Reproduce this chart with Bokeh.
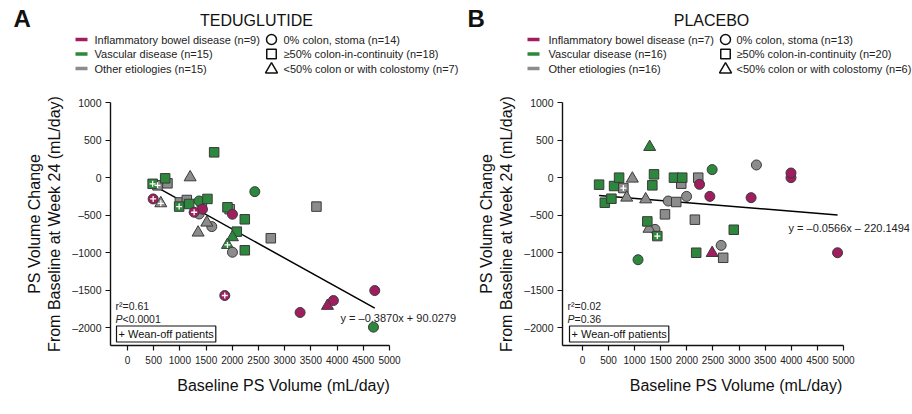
from bokeh.plotting import figure
from bokeh.layouts import row, column
from bokeh.models import Label, FixedTicker, ColumnDataSource, Range1d
from bokeh.embed import file_html
from bokeh.resources import INLINE

FONT = "Liberation Sans"

# ---------------- data ----------------
ETIO_COLORS = {"IBD": "#a01e5f", "VASC": "#2d873c", "OTHER": "#8c8c8c"}
SHAPE_SIZE = {"circle": 10, "square": 9.5, "triangle": 12}

ted_x = [573, 1000, 1420, 1950, 763, 719, 1196, 1654, 480, 490, 636, 1132, 986, 1177,
         1367, 1526, 1367, 1431, 1272, 1609, 1514, 1348, 2430, 1908, 2003, 2239, 2086,
         2003, 1908, 2003, 2239, 2735, 3606, 1857, 3294, 3930, 3816, 4719, 4694]
ted_y = [-102, -330, -330, -420, -75, -9, 4, 337, -82, -283, -341, -297, -385, -350,
         -310, -283, -483, -420, -460, -651, -598, -731, -186, -394, -487, -554, -718,
         -793, -895, -992, -966, -806, -385, -1568, -1794, -1635, -1706, -1502, -1989]
ted_etio = ["OTHER", "OTHER", "OTHER", "OTHER", "OTHER", "VASC", "OTHER", "VASC", "VASC", "IBD",
            "OTHER", "OTHER", "VASC", "VASC", "VASC", "VASC", "OTHER", "IBD", "IBD", "OTHER",
            "OTHER", "OTHER", "VASC", "VASC", "IBD", "VASC", "VASC", "VASC", "VASC", "OTHER",
            "VASC", "OTHER", "OTHER", "IBD", "IBD", "IBD", "IBD", "IBD", "VASC"]
ted_shape = ["square", "square", "square", "square", "square", "square", "triangle", "square",
             "square", "circle", "triangle", "square", "square", "square", "circle", "square",
             "circle", "circle", "circle", "circle", "triangle", "triangle", "circle", "square",
             "circle", "square", "square", "triangle", "triangle", "circle", "square", "square",
             "square", "circle", "circle", "circle", "triangle", "circle", "circle"]
ted_wean = [1, 0, 0, 0, 0, 0, 0, 0, 1, 1, 1, 0, 1, 0, 0, 0, 0, 0, 1, 0, 0, 0, 0, 0, 0, 0,
            0, 0, 1, 0, 0, 0, 0, 1, 0, 0, 0, 0, 0]

pla_x = [318, 427, 554, 605, 701, 783, 955, 847, 1210, 1287, 1370, 1338, 1389, 1274, 1242,
         1433, 1064, 1643, 1796, 1580, 1994, 1892, 1752, 1911, 2217, 2242, 2153, 2178, 2484,
         2440, 2484, 2656, 2695, 2898, 3332, 3230, 3994, 3994, 4886]
pla_y = [-93, -333, -280, -111, 0, -138, -13, -266, -289, 408, 44, -102, -688, -680, -582,
         -777, -1092, -311, -324, -488, -249, -80, 0, 0, 0, -89, -559, -999, 107,
         -249, -1003, -901, -1066, -693, 169, -266, 0, 62, -999]
pla_etio = ["VASC", "VASC", "VASC", "VASC", "VASC", "OTHER", "OTHER", "OTHER", "OTHER", "VASC",
            "VASC", "VASC", "OTHER", "OTHER", "VASC", "VASC", "VASC", "OTHER", "OTHER", "OTHER",
            "OTHER", "OTHER", "VASC", "VASC", "OTHER", "IBD", "OTHER", "VASC", "VASC", "IBD",
            "IBD", "OTHER", "OTHER", "VASC", "OTHER", "IBD", "IBD", "IBD", "IBD"]
pla_shape = ["square", "square", "square", "square", "square", "square", "triangle", "triangle",
             "triangle", "triangle", "square", "square", "circle", "triangle", "square", "square",
             "circle", "circle", "square", "square", "circle", "square", "square", "square",
             "square", "circle", "square", "square", "circle", "circle", "triangle", "circle",
             "square", "square", "circle", "circle", "circle", "circle", "circle"]
pla_wean = [0, 0, 0, 0, 0, 1, 0, 0, 0, 0, 0, 0, 0, 0, 0, 1, 0, 0, 0, 0, 0, 0, 0, 0, 0, 0,
            0, 0, 0, 0, 0, 0, 0, 0, 0, 0, 0, 0, 0]

ted_slope, ted_intercept = -0.3870, 90.0279
pla_slope, pla_intercept = -0.0566, -220.1494

panel_letters = ["A", "B"]
panel_titles = ["TEDUGLUTIDE", "PLACEBO"]
etio_legends = [["Inflammatory bowel disease (n=9)", "Vascular disease (n=15)", "Other etiologies (n=15)"],
                ["Inflammatory bowel disease (n=7)", "Vascular disease (n=16)", "Other etiologies (n=16)"]]
shape_legends = [["0% colon, stoma (n=14)", "\u226550% colon-in-continuity (n=18)", "<50% colon or with colostomy (n=7)"],
                 ["0% colon, stoma (n=13)", "\u226550% colon-in-continuity (n=20)", "<50% colon or with colostomy (n=6)"]]
legend_etio_keys = ["IBD", "VASC", "OTHER"]
legend_shapes = ["circle", "square", "triangle"]
ted_stats = ("r\u00b2=0.61", "<0.0001")
pla_stats = ("r\u00b2=0.02", "=0.36")
ted_eq = "y = \u20130.3870x + 90.0279"
pla_eq = "y = \u20130.0566x \u2013 220.1494"
wean_text = "+ Wean-off patients"

x_ticks = [0, 500, 1000, 1500, 2000, 2500, 3000, 3500, 4000, 4500, 5000]
y_ticks = [-2000, -1500, -1000, -500, 0, 500, 1000]
y_tick_labels = ["\u20132000", "\u20131500", "\u20131000", "\u2013500", "0", "500", "1000"]

X_LABEL = "Baseline PS Volume (mL/day)"
Y_LABEL = "PS Volume Change\nFrom Baseline at Week 24 (mL/day)"

# ---------------- layout constants ----------------
TOTAL_W = 912
HDR_H = 94
Y0, Y1 = -2233, 1000
FRAME_TOP = 102     # page px
FRAME_H = 243
PLOT_H = 318


# ---------------- header (titles + legends) ----------------
hdr = figure(width=TOTAL_W, height=HDR_H, x_range=Range1d(0, TOTAL_W), y_range=Range1d(HDR_H, 0),
             min_border=0, x_axis_type=None, y_axis_type=None,
             output_backend="svg", toolbar_location=None)
hdr.outline_line_color = None
hdr.background_fill_color = "white"
hdr.border_fill_color = "white"


def htxt(x, y, text, size="11px", color="#222222", style="normal", align="left"):
    hdr.add_layout(Label(x=x, y=y, text=text, text_font=FONT, text_font_size=size,
                         text_color=color, text_font_style=style, text_align=align,
                         text_baseline="middle"))


letter_x = [13, 467]
title_cx = [256, 711]
bar_cx = [81, 533]
etio_txt_x = [94, 548]
sym_cx = [271, 725]
shape_txt_x = [283, 736]
rows_y = [39, 53.5, 68]

for k in range(2):
    htxt(letter_x[k], 18, panel_letters[k], size="24px", color="#111111", style="bold")
    htxt(title_cx[k], 20, panel_titles[k], size="16px", color="#111111", align="center")
    for i, ry in enumerate(rows_y):
        hdr.rect(x=[bar_cx[k]], y=[ry], width=12, height=3.5,
                 fill_color=ETIO_COLORS[legend_etio_keys[i]], line_color=None)
        htxt(etio_txt_x[k], ry, etio_legends[k][i])
        shp = legend_shapes[i]
        hdr.scatter(x=[sym_cx[k]], y=[ry + (1 if shp == "triangle" else 0)], marker=shp,
                    size={"circle": 10, "square": 9.5, "triangle": 12}[shp],
                    fill_color="white", line_color="#111111", line_width=1.5)
        htxt(shape_txt_x[k], ry, shape_legends[k][i])


# ---------------- scatter panels ----------------
def make_panel(xs, ys, etio, shape, wean, slope, intercept, stats, eq,
               page_left, fig_w, frame_left, axis_right, x0, stats_px, box_px, eq_pos,
               right_pad):
    frame_w = page_left + fig_w - frame_left - right_pad
    per_px = (5000 - x0) / (axis_right - frame_left)
    x1 = x0 + frame_w * per_px
    p = figure(frame_width=frame_w, frame_height=FRAME_H,
               min_border_left=frame_left - page_left,
               min_border_right=right_pad,
               min_border_top=FRAME_TOP - HDR_H,
               min_border_bottom=PLOT_H - (FRAME_TOP - HDR_H) - FRAME_H,
               x_range=Range1d(x0, x1), y_range=Range1d(Y0, Y1),
               output_backend="svg", toolbar_location=None)
    p.outline_line_color = None
    p.xgrid.visible = False
    p.ygrid.visible = False
    p.background_fill_color = "white"
    p.border_fill_color = "white"

    for ax in (p.xaxis[0], p.yaxis[0]):
        ax.axis_line_color = "#111111"
        ax.axis_line_width = 1.4
        ax.major_tick_line_color = "#111111"
        ax.major_tick_line_width = 1.2
        ax.major_tick_out = 5
        ax.major_tick_in = 0
        ax.minor_tick_line_color = None
        ax.major_label_text_font = FONT
        ax.major_label_text_color = "#222222"
        ax.axis_label_text_font = FONT
        ax.axis_label_text_font_style = "normal"
        ax.axis_label_text_font_size = "16px"
        ax.axis_label_text_color = "#111111"
    p.xaxis.bounds = (x0, 5000)
    p.xaxis.ticker = FixedTicker(ticks=x_ticks)
    p.yaxis.ticker = FixedTicker(ticks=y_ticks)
    p.yaxis.major_label_overrides = {t: l for t, l in zip(y_ticks, y_tick_labels)}
    p.xaxis.major_label_text_font_size = "10px"
    p.yaxis.major_label_text_font_size = "10.5px"
    p.xaxis.axis_label = X_LABEL
    p.yaxis.axis_label = Y_LABEL
    p.xaxis.axis_label_standoff = 10
    p.yaxis.axis_label_standoff = 6
    p.xaxis.major_label_standoff = 5
    p.yaxis.major_label_standoff = 4

    def to_data(px, py):
        x = x0 + (px - frame_left) * per_px
        y = Y1 - (py - FRAME_TOP) / FRAME_H * (Y1 - Y0)
        return x, y

    def txt(px, py, text, size="11px", color="#222222", style="normal", align="left", **kw):
        x, y = to_data(px, py)
        p.add_layout(Label(x=x, y=y, text=text, text_font=FONT, text_font_size=size,
                           text_color=color, text_font_style=style, text_align=align,
                           text_baseline="middle", **kw))

    # regression line
    xmin, xmax = min(xs), max(xs)
    p.line([xmin, xmax], [slope * xmin + intercept, slope * xmax + intercept],
           line_color="black", line_width=1.5)

    src = ColumnDataSource(dict(
        x=xs, y=ys,
        color=[ETIO_COLORS[e] for e in etio],
        marker=shape,
        size=[SHAPE_SIZE[s] for s in shape],
    ))
    p.scatter("x", "y", source=src, marker="marker", size="size", fill_color="color",
              line_color="#3a3a3a", line_width=1)
    wx = [x for x, w in zip(xs, wean) if w]
    wy = [y for y, w in zip(ys, wean) if w]
    p.scatter(wx, wy, marker="cross", size=6, line_color="white", line_width=1.3)

    # stats
    txt(stats_px, 305, stats[0], size="10.5px")
    txt(stats_px, 318, "P", size="10.5px", style="italic")
    txt(stats_px + 7, 318, stats[1], size="10.5px")
    txt(box_px, 333.5, wean_text, size="11px", color="#111111",
        border_line_color="#111111", border_line_width=1.2,
        background_fill_color="white", padding=2)
    txt(eq_pos[0], eq_pos[1], eq, size="11px")
    return p


pA = make_panel(ted_x, ted_y, ted_etio, ted_shape, ted_wean, ted_slope, ted_intercept,
                ted_stats, ted_eq, page_left=0, fig_w=456, frame_left=110, axis_right=389,
                x0=-324, stats_px=115, box_px=116, eq_pos=(340, 317), right_pad=0)
pB = make_panel(pla_x, pla_y, pla_etio, pla_shape, pla_wean, pla_slope, pla_intercept,
                pla_stats, pla_eq, page_left=456, fig_w=456, frame_left=562, axis_right=843,
                x0=-383, stats_px=567, box_px=569, eq_pos=(788, 227), right_pad=3)

layout = column(hdr, row(pA, pB))
open("out.html", "w").write(file_html(layout, INLINE))
